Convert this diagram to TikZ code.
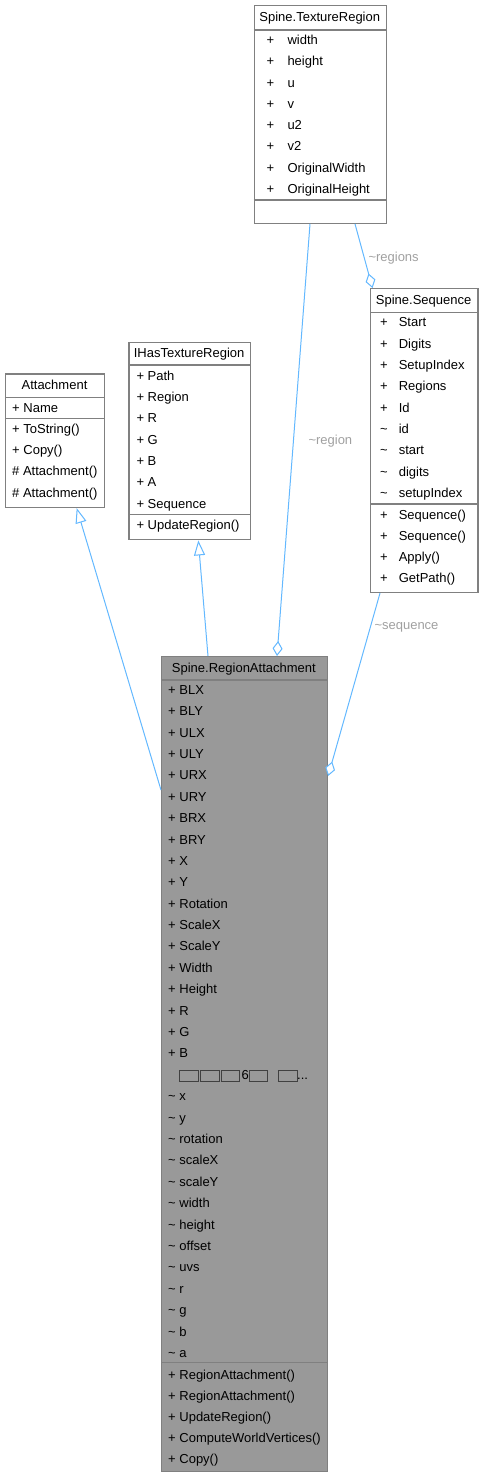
\documentclass[tikz,border=0pt]{standalone}
\usepackage{fontspec}
\setmainfont{Liberation Sans}
\usetikzlibrary{arrows.meta}
\definecolor{edgeblue}{RGB}{99,184,255}
\definecolor{boxgray}{RGB}{128,128,128}
\definecolor{lblgray}{RGB}{160,160,160}
\definecolor{curfill}{RGB}{153,153,153}
\newcommand{\umlfont}{\fontsize{13}{15}\selectfont}
\newcommand{\vpk}{\textasciitilde}
\newcommand{\tofu}{{\setlength{\fboxsep}{1pt}\setlength{\fboxrule}{0.6pt}%
  \fcolorbox{black!75}{curfill}{\rule[-1pt]{0pt}{9pt}\hspace{16pt}}}}
\newcommand{\tofurow}{\phantom{+} \tofu\kern1.5pt\tofu\kern1.5pt\tofu\kern1.5pt6\tofu\kern10pt\tofu.{}.{}.}
\tikzset{
  every picture/.style={line width=1pt},
  umlbox/.style={draw=boxgray, line width=1.4pt, fill=white, anchor=north west, inner sep=0pt},
  umlcur/.style={umlbox, fill=curfill},
  umlsep/.style={draw=boxgray, line width=1.4pt},
  umltxt/.style={anchor=west, inner sep=0pt, text height=8pt, text depth=0pt, font=\umlfont},
  umltitle/.style={umltxt, anchor=center},
  sInherit/.style={draw=edgeblue, -{Triangle[length=15pt, width=11pt, fill=white]}},
  sAggr/.style={draw=edgeblue, -{Diamond[length=15pt, width=10pt, fill=white]}},
  sLbl/.style={umltxt, text=lblgray},
}

\begin{document}
\begin{tikzpicture}[x=1pt, y=-1pt]
\useasboundingbox (0,0) rectangle (483,1477);
% class boxes
\node[umlbox, minimum width=132.5pt, minimum height=217.5pt] (tr) at (253.5,5) {};
\node[umlbox, minimum width=107.3pt, minimum height=303.7pt] (sq) at (370,288) {};
\node[umlbox, minimum width=99pt, minimum height=133.4pt] (at) at (5,373.3) {};
\node[umlbox, minimum width=121.7pt, minimum height=197.3pt] (ih) at (128.3,341.7) {};
\node[umlcur, minimum width=165.7pt, minimum height=815pt] (ra) at (161,656) {};
\draw[umlsep] (253.5,30) -- (386,30) (253.5,200) -- (386,200);
\draw[umlsep] (370,312.3) -- (477.3,312.3) (370,504) -- (477.3,504);
\draw[umlsep] (5,397.3) -- (104,397.3) (5,418.3) -- (104,418.3);
\draw[umlsep] (128.3,365) -- (250,365) (128.3,514.3) -- (250,514.3);
\draw[umlsep] (161,680) -- (326.7,680) (161,1362.7) -- (326.7,1362.7);

% Spine.TextureRegion
\node[umltitle] (trt) at (319.75,17.5) {Spine.TextureRegion};
\foreach \n [count=\i from 0] in {width,height,u,v,u2,v2,OriginalWidth,OriginalHeight}{
  \node[umltxt] (trv\i) at (266,{40.7+21.23*\i}) {+};
  \node[umltxt] (tr\i) at (287,{40.7+21.23*\i}) {\n};
}

% Spine.Sequence
\node[umltitle] (sqt) at (423.65,300.5) {Spine.Sequence};
\foreach \v/\n [count=\i from 0] in {+/Start,+/Digits,+/SetupIndex,+/Regions,+/Id,
    \vpk/id,\vpk/start,\vpk/digits,\vpk/setupIndex}{
  \node[umltxt] (sqv\i) at (379.5,{322.7+21.33*\i}) {\v};
  \node[umltxt] (sq\i) at (398.3,{322.7+21.33*\i}) {\n};
}
\foreach \n [count=\i from 0] in {Sequence(),Sequence(),Apply(),GetPath()}{
  \node[umltxt] (sqmv\i) at (379.5,{515+21.33*\i}) {+};
  \node[umltxt] (sqm\i) at (398.3,{515+21.33*\i}) {\n};
}

% Attachment
\node[umltitle] (att) at (54.5,385.5) {Attachment};
\node[umltxt] (at0) at (11.7,408.7) {+ Name};
\foreach \n [count=\i from 0] in {+ ToString(),+ Copy(),\# Attachment(),\# Attachment()}
  \node[umltxt] (atm\i) at (11.7,{429.3+21.33*\i}) {\n};

% IHasTextureRegion
\node[umltitle] (iht) at (189.15,353.5) {IHasTextureRegion};
\foreach \n [count=\i from 0] in {+ Path,+ Region,+ R,+ G,+ B,+ A,+ Sequence}
  \node[umltxt] (ih\i) at (136,{376+21.38*\i}) {\n};
\node[umltxt] (ihm0) at (136,525.7) {+ UpdateRegion()};

% Spine.RegionAttachment
\node[umltitle] (rat) at (243.85,668) {Spine.RegionAttachment};
\foreach \n [count=\i from 0] in {+ BLX,+ BLY,+ ULX,+ ULY,+ URX,+ URY,+ BRX,+ BRY,+ X,+ Y,
    + Rotation,+ ScaleX,+ ScaleY,+ Width,+ Height,+ R,+ G,+ B,\tofurow,
    \vpk\ x,\vpk\ y,\vpk\ rotation,\vpk\ scaleX,\vpk\ scaleY,\vpk\ width,\vpk\ height,
    \vpk\ offset,\vpk\ uvs,\vpk\ r,\vpk\ g,\vpk\ b,\vpk\ a}
  \node[umltxt] (ra\i) at (167.7,{690.3+21.39*\i}) {\n};
\foreach \n [count=\i from 0] in {RegionAttachment(),RegionAttachment(),UpdateRegion(),
    ComputeWorldVertices(),Copy()}
  \node[umltxt] (ram\i) at (167.7,{1375+21*\i}) {+ \n};

% relations
\draw[sInherit] (ra.west |- 0,790) -- (at.south -| 76.7,0);
\draw[sInherit] (ra.north -| 208,0) -- (ih.south -| 198.3,0);
\draw[sAggr] (tr.south -| 310,0) -- (ra.north -| 277,0);
\node[sLbl] (lregion) at (308,440) {\vpk region};
\draw[sAggr] (tr.south -| 355,0) -- (sq.north -| 372.5,0);
\node[sLbl] (lregions) at (368,257) {\vpk regions};
\draw[sAggr] (sq.south -| 380,0) -- (ra.east |- 0,776);
\node[sLbl] (lsequence) at (374,625) {\vpk sequence};
\end{tikzpicture}
\end{document}
